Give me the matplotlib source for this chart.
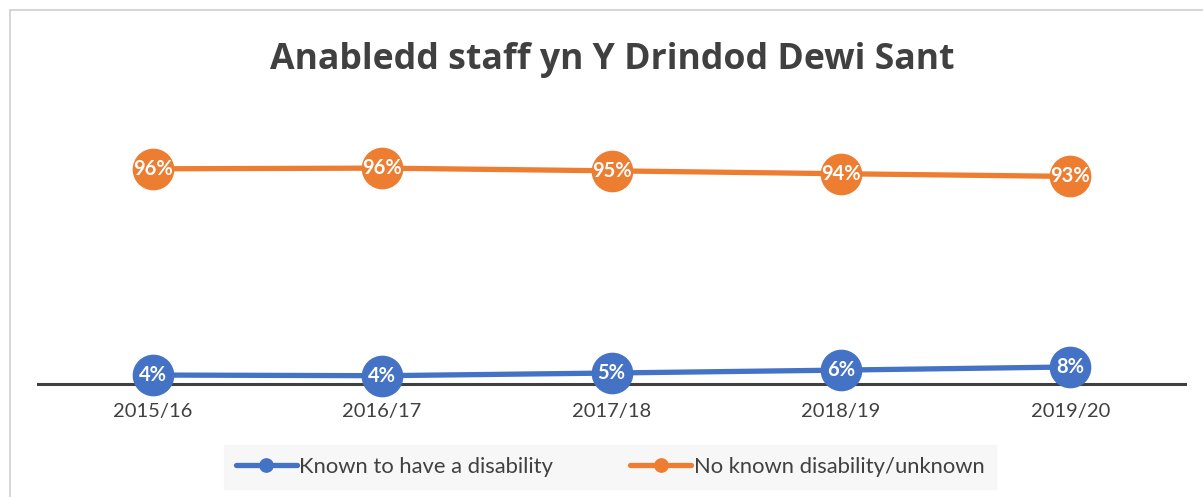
import matplotlib.pyplot as plt
from matplotlib.patches import Rectangle
import numpy as np

years = ["2015/16", "2016/17", "2017/18", "2018/19", "2019/20"]
known = [4.0, 3.7, 4.9, 6.2, 7.6]
unknown = [96.0, 96.3, 95.1, 93.8, 92.6]
known_lbl = ["4%", "4%", "5%", "6%", "8%"]
unknown_lbl = ["96%", "96%", "95%", "94%", "93%"]

blue = "#4472C4"
orange = "#ED7D31"
grey = "#404040"

W, H = 1203, 497
fig = plt.figure(figsize=(W / 100, H / 100), dpi=100)
plt.rcParams['font.family'] = ['Lato', 'DejaVu Sans']

# chart border
fig.patches.append(Rectangle((10 / W, -0.1), 1.2, (H - 10) / H + 0.1, transform=fig.transFigure,
                             fill=False, edgecolor="#D0D0D0", linewidth=1.2))

ax = fig.add_axes([38 / W, (H - 384) / H, 1147 / W, 269 / H])
x = np.arange(len(years))
ax.plot(x, known, color=blue, lw=3.8, marker="o", ms=29, solid_capstyle="round",
        label="Known to have a disability", zorder=3, clip_on=False)
ax.plot(x, unknown, color=orange, lw=3.8, marker="o", ms=29, solid_capstyle="round",
        label="No known disability/unknown", zorder=3, clip_on=False)
for xi, v, t in zip(x, known, known_lbl):
    ax.text(xi, v, t, ha="center", va="center", color="white", fontsize=14.5,
            fontweight="bold", zorder=4)
for xi, v, t in zip(x, unknown, unknown_lbl):
    ax.text(xi, v, t, ha="center", va="center", color="white", fontsize=14.5,
            fontweight="bold", zorder=4)

ax.set_xlim(-0.5, 4.5)
ax.set_ylim(0, 120)
for s in ["top", "right", "left"]:
    ax.spines[s].set_visible(False)
ax.spines["bottom"].set_color(grey)
ax.spines["bottom"].set_linewidth(2.2)
ax.spines["bottom"].set_zorder(2)
ax.set_yticks([])
ax.set_xticks(x)
ax.set_xticklabels(years, fontsize=14.5, color=grey)
ax.tick_params(axis="x", length=0, pad=14)

fig.text(612 / W, 1 - 60 / H, "Anabledd staff yn Y Drindod Dewi Sant", ha="center", va="center",
         fontsize=25.7, fontweight="bold", color=grey, family=["Open Sans", "DejaVu Sans"])

leg = fig.legend(loc="center", bbox_to_anchor=(610 / W, 1 - 467 / H), ncol=2, frameon=True,
                 fontsize=15.8, markerscale=0.33, handlelength=2.8, columnspacing=3.5,
                 handletextpad=0.1, borderpad=0.55, fancybox=False)
leg.get_frame().set_facecolor("#F5F5F5")
leg.get_frame().set_edgecolor("#F5F5F5")
for t in leg.get_texts():
    t.set_color(grey)

fig.savefig("out.png", dpi=100)
